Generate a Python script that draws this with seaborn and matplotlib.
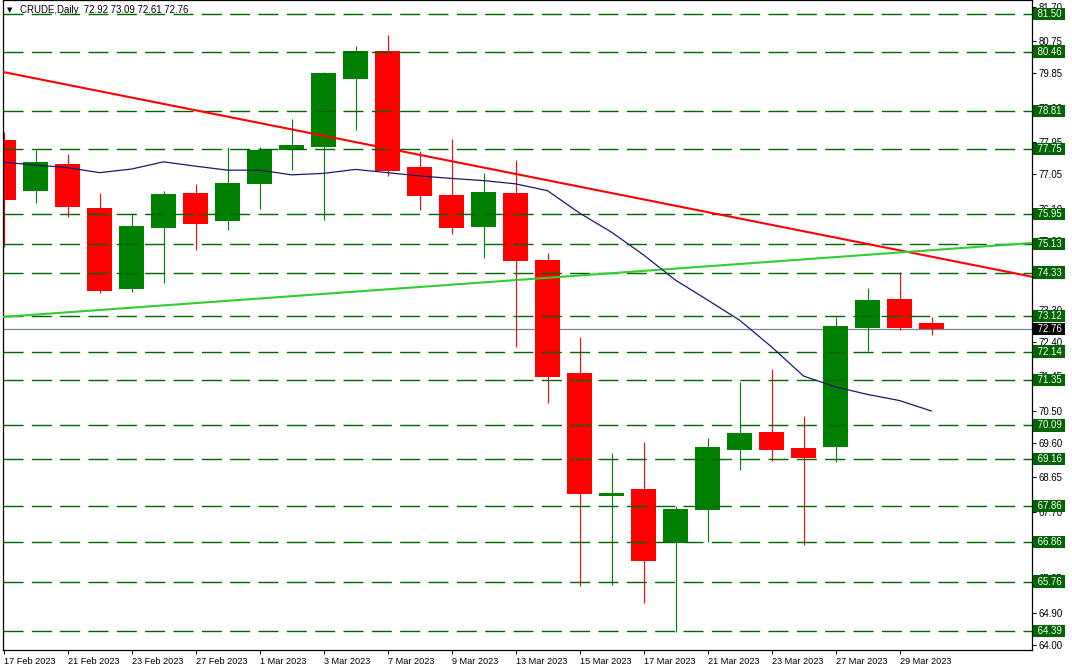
import matplotlib
matplotlib.use("Agg")
import matplotlib.pyplot as plt
import matplotlib.transforms as mtransforms
import numpy as np
import pandas as pd
import seaborn as sns

# ---------------- data ----------------
dates = ["17 Feb 2023", "20 Feb 2023", "21 Feb 2023", "22 Feb 2023", "23 Feb 2023",
         "24 Feb 2023", "27 Feb 2023", "28 Feb 2023", "1 Mar 2023", "2 Mar 2023",
         "3 Mar 2023", "6 Mar 2023", "7 Mar 2023", "8 Mar 2023", "9 Mar 2023",
         "10 Mar 2023", "13 Mar 2023", "14 Mar 2023", "15 Mar 2023", "16 Mar 2023",
         "17 Mar 2023", "20 Mar 2023", "21 Mar 2023", "22 Mar 2023", "23 Mar 2023",
         "24 Mar 2023", "27 Mar 2023", "28 Mar 2023", "29 Mar 2023", "30 Mar 2023"]
opens = [78.01, 76.60, 77.34, 76.12, 73.88, 75.57, 76.54, 75.77, 76.79, 77.72,
         77.82, 79.71, 80.47, 77.26, 76.48, 75.60, 76.54, 74.68, 71.54, 68.13,
         68.33, 66.82, 67.75, 69.42, 69.91, 69.46, 69.50, 72.80, 73.60, 72.92]
highs = [78.24, 77.73, 77.62, 76.54, 75.95, 76.59, 76.79, 77.81, 77.81, 78.59,
         79.88, 80.61, 80.92, 77.70, 78.03, 77.09, 77.45, 74.87, 72.54, 69.33,
         69.63, 67.86, 69.74, 71.29, 71.66, 70.35, 73.09, 73.90, 74.35, 73.09]
lows = [75.05, 76.27, 75.88, 73.77, 73.80, 74.05, 74.96, 75.52, 76.10, 77.18,
        75.80, 78.29, 77.02, 76.07, 75.41, 74.74, 72.27, 70.71, 65.65, 65.67,
        65.17, 64.36, 66.87, 68.86, 69.11, 66.78, 69.08, 72.16, 72.74, 72.61]
closes = [76.34, 77.40, 76.16, 73.83, 75.62, 76.51, 75.68, 76.81, 77.73, 77.87,
          79.86, 80.47, 77.15, 76.46, 75.57, 76.56, 74.66, 71.44, 68.19, 68.22,
          66.34, 67.77, 69.49, 69.88, 69.42, 69.20, 72.85, 73.57, 72.80, 72.76]
ma_values = [77.39, 77.31, 77.24, 77.10, 77.20, 77.40, 77.28, 77.17, 77.17, 77.04,
             77.08, 77.19, 77.10, 77.01, 76.94, 76.88, 76.79, 76.60, 75.98, 75.45,
             74.82, 74.12, 73.57, 73.01, 72.27, 71.46, 71.16, 70.95, 70.78, 70.49]

level_values = [81.50, 80.46, 78.81, 77.75, 75.95, 75.13, 74.33, 73.12,
                72.14, 71.35, 70.09, 69.16, 67.86, 66.86, 65.76, 64.39]
current_price = 72.76

price_ticks = [81.70, 80.75, 79.85, 78.90, 77.95, 77.05, 76.10, 75.20, 74.25, 73.30,
               72.40, 71.45, 70.50, 69.60, 68.65, 67.70, 66.80, 65.85, 64.90, 64.00]
date_tick_labels = ["17 Feb 2023", "21 Feb 2023", "23 Feb 2023", "27 Feb 2023",
                    "1 Mar 2023", "3 Mar 2023", "7 Mar 2023", "9 Mar 2023",
                    "13 Mar 2023", "15 Mar 2023", "17 Mar 2023", "21 Mar 2023",
                    "23 Mar 2023", "27 Mar 2023", "29 Mar 2023"]

# trendline anchors: (bar index, price)
red_trend_bars = [0, 29]
red_trend_prices = [79.89, 74.77]
green_trend_bars = [0, 29]
green_trend_prices = [73.10, 74.95]

title_text = "CRUDE,Daily  72.92 73.09 72.61 72.76"

# ---------------- style ----------------
sns.set_style("white")
plt.rcParams["font.family"] = ["Liberation Sans", "DejaVu Sans"]
plt.rcParams["lines.scale_dashes"] = False

W, H = 1072, 671
fig = plt.figure(figsize=(W / 100, H / 100), dpi=100)
fig.patch.set_facecolor("white")
ax = fig.add_axes([3 / W, 21 / H, 1029 / W, 650 / H])
ax.set_facecolor("white")

df = pd.DataFrame({"idx": np.arange(len(dates)), "date": dates, "open": opens,
                   "high": highs, "low": lows, "close": closes, "ma": ma_values})

bull = "#008000"
bear = "#FF0000"
colors = [bull if c >= o else bear for o, c in zip(df["open"], df["close"])]

# current price line (behind candles)
ax.axhline(current_price, color="#778899", lw=0.9, zorder=1)

# wicks
ax.vlines(df["idx"], df["low"], df["high"], colors=colors, lw=0.8, zorder=2)
# bodies
body_bottom = np.minimum(df["open"], df["close"])
body_height = np.maximum(np.abs(df["close"] - df["open"]), 0.06)
ax.bar(df["idx"], body_height, bottom=body_bottom, width=0.78, color=colors,
       edgecolor="none", linewidth=0, zorder=2)

# horizontal dashed levels
for lv in level_values:
    ax.axhline(lv, color="#006400", lw=1.0, dashes=(14.4, 6.0), zorder=3)

# trendlines
ax.axline((red_trend_bars[0], red_trend_prices[0]), (red_trend_bars[1], red_trend_prices[1]),
          color="#FF0000", lw=1.5, zorder=4)
ax.axline((green_trend_bars[0], green_trend_prices[0]), (green_trend_bars[1], green_trend_prices[1]),
          color="#32CD32", lw=1.5, zorder=4)

# moving average
sns.lineplot(data=df, x="idx", y="ma", ax=ax, color="#191970", lw=0.9, zorder=5,
             legend=False)

# axes limits
ppx = 36.06  # pixels per price unit
ax.set_ylim(81.50 - (650 - 14) / ppx, 81.50 + 14 / ppx)
ax.set_xlim(-0.016, (1032 - 3.5) / 32)
ax.set_xlabel("")
ax.set_ylabel("")

# right price axis
ax.yaxis.tick_right()
ax.set_yticks(price_ticks)
ax.set_yticklabels([f"{v:.2f}" for v in price_ticks])
ax.tick_params(axis="y", which="major", right=True, left=False, length=3, width=0.7,
               pad=1.5, labelsize=6.9, colors="black")

# date axis
tick_idx = [dates.index(d) for d in date_tick_labels]
ax.set_xticks(tick_idx)
ax.set_xticklabels(date_tick_labels, ha="left")
ax.tick_params(axis="x", which="major", bottom=True, length=3, width=0.7, pad=2,
               labelsize=6.6, colors="black")

for sp in ax.spines.values():
    sp.set_visible(True)
    sp.set_color("black")
    sp.set_linewidth(0.9)

# level labels in boxes on the right
trans = mtransforms.blended_transform_factory(ax.transAxes, ax.transData)
for lv in level_values:
    ax.text(1.0025, lv, f" {lv:.2f} ", transform=trans, ha="left", va="center",
            fontsize=6.9, color="white", clip_on=False, zorder=10,
            bbox=dict(boxstyle="square,pad=0.12", facecolor="#006400", edgecolor="none"))
ax.text(1.0025, current_price, f" {current_price:.2f} ", transform=trans, ha="left",
        va="center", fontsize=6.9, color="white", clip_on=False, zorder=10,
        bbox=dict(boxstyle="square,pad=0.12", facecolor="black", edgecolor="none"))

# title
ax.text(4 / 1029, 1 - 10 / 650, "▼", transform=ax.transAxes, ha="left", va="center",
        fontsize=5, color="black", family=["DejaVu Sans"], zorder=10)
ax.text(17 / 1029, 1 - 10 / 650, title_text, transform=ax.transAxes, ha="left",
        va="center", fontsize=6.9, color="black", zorder=10)

fig.savefig("out.png", dpi=100, facecolor="white")
